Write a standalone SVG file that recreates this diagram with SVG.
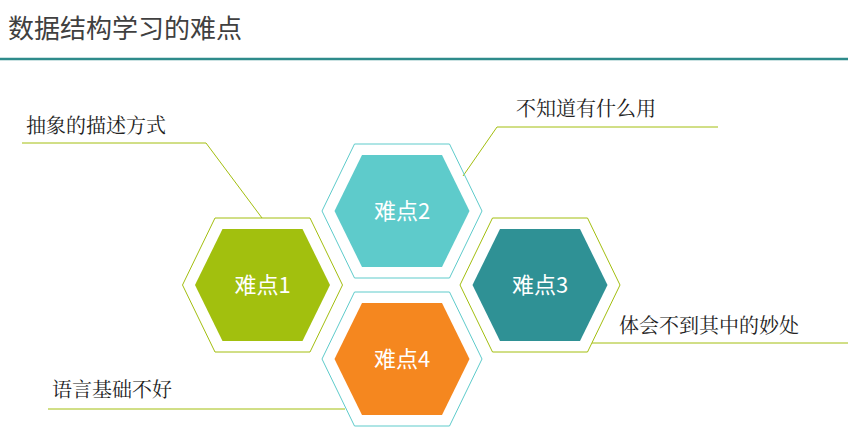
<svg xmlns="http://www.w3.org/2000/svg" width="848" height="437" viewBox="0 0 848 437">
<style>
.lbl{font-family:"Noto Sans CJK SC","Noto Sans",sans-serif;font-size:22px;fill:#fff;text-anchor:middle}
.cap{font-family:"Noto Serif CJK SC","Noto Sans CJK SC",serif;font-size:20px;fill:#222}
.g{stroke:#a3be0f;fill:none;stroke-width:1}
.c{stroke:#5ecbcb;fill:none;stroke-width:1}
</style>
<defs>
<polygon id="out" points="-80,0 -47.5,-67 47.5,-67 80,0 47.5,67 -47.5,67"/>
<polygon id="in" points="-67.5,0 -40,-56 40,-56 67.5,0 40,56 -40,56"/>
</defs>
<rect width="848" height="437" fill="#fff"/>
<text x="8" y="38" font-family="'Noto Sans CJK SC',sans-serif" font-size="26" fill="#404040">数据结构学习的难点</text>
<line x1="0" y1="59" x2="848" y2="59" stroke="#2e8b8b" stroke-width="2.5"/>
<g id="connectors">
<polyline class="g" points="22,143 206,143 262,218"/>
<polyline class="g" points="718,127 497,127 463,176"/>
<line class="g" x1="592" y1="343" x2="848" y2="343"/>
<line class="g" x1="48" y1="409" x2="345" y2="409"/>
</g>
<g id="n1" transform="translate(262.5,285)"><use href="#out" class="g"/><use href="#in" fill="#a2c00e"/><text class="lbl" y="8">难点1</text></g>
<g id="n2" transform="translate(402,211)"><use href="#out" class="c"/><use href="#in" fill="#5ecbcb"/><text class="lbl" y="8">难点2</text></g>
<g id="n3" transform="translate(540,285)"><use href="#out" class="g"/><use href="#in" fill="#2f9195"/><text class="lbl" y="8">难点3</text></g>
<g id="n4" transform="translate(402,359)"><use href="#out" class="c"/><use href="#in" fill="#f5871f"/><text class="lbl" y="8">难点4</text></g>
<text class="cap" x="26" y="133">抽象的描述方式</text>
<text class="cap" x="516" y="116">不知道有什么用</text>
<text class="cap" x="619" y="333">体会不到其中的妙处</text>
<text class="cap" x="52" y="397">语言基础不好</text>
</svg>
